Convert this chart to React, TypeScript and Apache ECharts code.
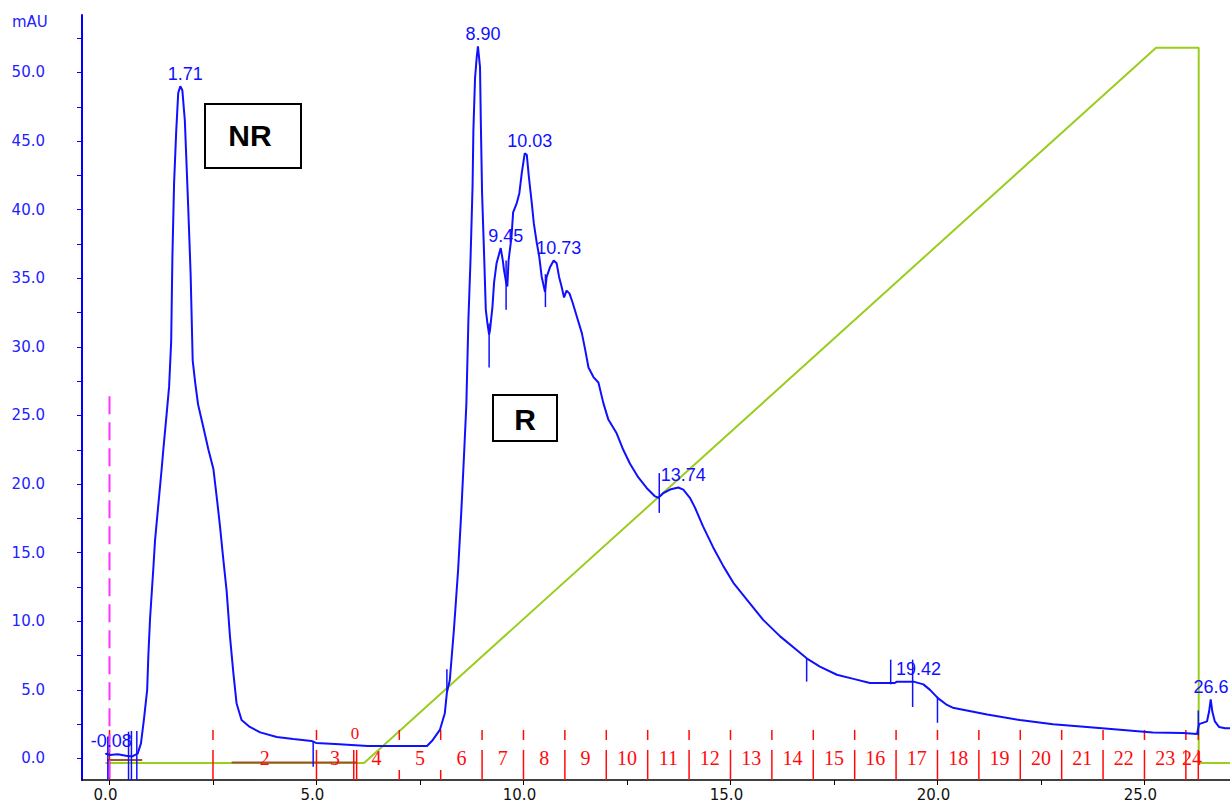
import React, { useEffect, useRef } from "react";
import * as echarts from "echarts";

// UV trace, minutes vs mAU
const trace: [number, number][] = [
  [-0.1, 0.3], [-0.08, 0.35], [0.0, 0.25], [0.2, 0.3], [0.4, 0.2], [0.55, 0.15], [0.68, 0.35],
  [0.76, 1.1], [0.83, 2.8], [0.91, 5.0], [0.94, 7.6], [0.98, 10.2],
  [1.06, 13.9], [1.1, 15.9], [1.18, 18.5], [1.26, 21.1], [1.3, 22.5], [1.38, 25.1], [1.44, 27.1],
  [1.49, 30.4], [1.52, 36.6], [1.56, 41.9], [1.61, 45.6], [1.66, 48.5], [1.71, 49.0], [1.76, 48.7],
  [1.82, 46.5], [1.9, 40.3], [1.96, 35.3], [2.01, 29.0], [2.07, 27.4], [2.14, 25.8], [2.27, 24.1],
  [2.39, 22.5], [2.51, 21.1], [2.6, 18.8], [2.67, 16.9], [2.75, 14.5], [2.83, 12.2], [2.91, 8.9],
  [2.99, 6.3], [3.07, 4.0], [3.19, 2.8], [3.39, 2.3], [3.64, 1.9], [4.04, 1.57], [4.44, 1.42],
  [4.88, 1.28], [4.99, 1.13], [5.45, 1.06], [6.24, 0.91], [7.02, 0.9], [7.67, 0.91], [7.81, 1.35],
  [7.98, 2.08], [8.1, 3.3], [8.15, 4.8], [8.22, 5.7], [8.32, 9.4], [8.42, 13.7], [8.5, 18.1],
  [8.57, 22.5], [8.62, 25.8], [8.67, 32.0], [8.72, 36.3], [8.77, 41.7], [8.79, 45.8], [8.83, 49.6],
  [8.87, 51.1], [8.9, 51.9], [8.95, 50.4], [8.97, 46.3], [9.0, 41.2], [9.05, 36.6], [9.09, 32.7],
  [9.13, 31.7], [9.17, 30.9], [9.19, 31.2], [9.25, 32.9], [9.29, 34.7], [9.35, 36.1], [9.45, 37.2],
  [9.5, 36.3], [9.53, 35.6], [9.58, 34.7], [9.61, 34.4], [9.64, 36.3], [9.71, 38.0], [9.75, 39.8],
  [9.84, 40.5], [9.9, 41.2], [9.96, 42.7], [10.03, 44.1], [10.08, 44.0], [10.13, 42.4], [10.2, 40.5],
  [10.25, 39.0], [10.32, 37.6], [10.38, 36.6], [10.44, 35.1], [10.52, 34.0], [10.56, 35.1],
  [10.64, 35.8], [10.73, 36.3], [10.8, 36.1], [10.86, 35.1], [10.92, 34.4], [10.98, 33.6],
  [11.04, 34.1], [11.11, 33.9], [11.19, 33.2], [11.29, 32.2], [11.41, 31.0], [11.49, 29.8],
  [11.57, 28.5], [11.69, 27.8], [11.81, 27.4], [11.93, 25.9], [12.05, 24.7], [12.25, 23.7],
  [12.41, 22.5], [12.57, 21.5], [12.77, 20.5], [12.98, 19.7], [13.18, 19.1], [13.26, 19.0],
  [13.38, 19.35], [13.54, 19.6], [13.74, 19.75], [13.86, 19.6], [14.02, 19.0], [14.14, 18.3],
  [14.34, 16.9], [14.58, 15.4], [14.83, 14.0], [15.07, 12.8], [15.39, 11.6], [15.79, 10.1],
  [16.2, 8.9], [16.6, 7.9], [16.84, 7.3], [17.16, 6.7], [17.57, 6.1], [17.97, 5.8], [18.37, 5.5],
  [18.97, 5.5], [19.02, 5.6], [19.42, 5.6], [19.66, 5.4], [19.82, 5.0], [20.01, 4.4], [20.23, 3.9],
  [20.37, 3.7], [20.71, 3.5], [21.2, 3.2], [21.99, 2.8], [22.79, 2.5], [23.61, 2.3], [24.41, 2.1],
  [25.2, 1.9], [25.93, 1.86], [26.27, 1.79], [26.32, 2.5], [26.51, 2.7], [26.56, 3.4], [26.6, 4.3],
  [26.64, 3.4], [26.7, 2.7], [26.8, 2.3], [26.95, 2.2], [27.07, 2.2],
];

// Gradient program, minutes vs %B
const gradientMinutes = [-0.1, 6.15, 25.28, 26.31, 26.31, 27.07];
const gradientPercentB = [0, 0, 100, 100, 0, 0];

// Integration baselines: [from, to, level mAU]
const baselines: [number, number, number][] = [
  [-0.06, 0.79, -0.11],
  [2.95, 5.97, -0.3],
];

// Peak retention times and their printed labels
const peakMinutes = [-0.08, 1.71, 8.9, 9.45, 10.03, 10.73, 13.74, 19.42, 26.6];
const peakLabels = ["-0.08", "1.71", "8.90", "9.45", "10.03", "10.73", "13.74", "19.42", "26.6"];

// Peak start / end markers: [minute, top mAU, bottom mAU]
const integrationMarks: [number, number, number][] = [
  [-0.04, 1.6, -1.57], [0.46, 1.95, -1.57], [0.53, 2.0, -1.57], [0.66, 2.0, -1.57],
  [4.92, 1.2, -0.6], [8.15, 6.5, 4.8], [9.17, 31.7, 28.5], [9.58, 36.3, 32.7],
  [10.53, 35.3, 32.9], [13.28, 20.8, 17.9], [16.84, 7.3, 5.6], [18.87, 7.2, 5.4],
  [19.4, 7.2, 3.75], [20.0, 4.5, 2.6], [26.3, 3.5, 1.7],
];

// Fraction collector cuts (minutes) and fraction numbers
const fractionCuts = [0, 2.5, 5, 5.9, 7, 8, 9, 10, 11, 12, 13, 14, 15, 16, 17, 18, 19, 20, 21, 22, 23, 24, 25, 26, 26.3];
const extraCuts = [5.97];
const shortCuts = [7, 8];
const noTopCuts = [5.9, 5.97];
const fractionNames = ["2", "3", "4", "5", "6", "7", "8", "9", "10", "11", "12", "13", "14", "15", "16", "17", "18", "19", "20", "21", "22", "23", "24"];
const wasteMarkMinute = 5.93;

// Injection marker
const injectionMinute = 0;
const injectionTop = 26.4;

// Axis ticks and labels
const xLabelValues = [0, 5, 10, 15, 20, 25];
const xTickValues = [0, 2.5, 5, 7.5, 10, 12.5, 15, 17.5, 20, 22.5, 25];
const yLabelValues = [0, 5, 10, 15, 20, 25, 30, 35, 40, 45, 50];
const yTickValues = [0, 2.5, 5, 7.5, 10, 12.5, 15, 17.5, 20, 22.5, 25, 27.5, 30, 32.5, 35, 37.5, 40, 42.5, 45, 47.5, 50, 52.5];

const X_MIN = -0.664;
const X_MAX = 27.066;
const Y_MIN = -1.57;
const Y_MAX = 54.19;

const CHART_W = 1230;
const BLUE = "#1010ff";
const RED = "#ff0a0a";

export default function App() {
  const ref = useRef<HTMLDivElement>(null);

  useEffect(() => {
    if (!ref.current) return;
    const chart = echarts.init(ref.current, undefined, { renderer: "svg" });

    const apexValue = (t: number) => {
      const p = trace.find((d) => d[0] === t);
      return p ? p[1] : 0;
    };

    const cutRows = [...fractionCuts, ...extraCuts].map((t) => [t, 0]);
    const fractionLabelRows = fractionNames.map((name, i) => [
      (fractionCuts[i + 1] + fractionCuts[i + 2]) / 2,
      0,
      name,
    ]);
    const peakRows = peakMinutes.map((t, i) => [t, apexValue(t), peakLabels[i]]);

    const option: any = {
      animation: false,
      backgroundColor: "#ffffff",
      grid: { left: 82, top: 15, width: 1148, height: 765, containLabel: false },
      xAxis: {
        type: "value",
        min: X_MIN,
        max: X_MAX,
        axisLine: { show: true, onZero: false, lineStyle: { color: "#000000", width: 1.5 } },
        axisTick: { show: true, length: 5, customValues: xTickValues, lineStyle: { color: "#000000" } },
        axisLabel: {
          customValues: xLabelValues,
          formatter: (v: number) => v.toFixed(1),
          color: "#111111",
          fontFamily: "DejaVu Sans",
          fontSize: 15,
          margin: 7,
          padding: [0, 8, 0, 0],
        },
        splitLine: { show: false },
      },
      yAxis: [
        {
          type: "value",
          min: Y_MIN,
          max: Y_MAX,
          axisLine: { show: true, onZero: false, lineStyle: { color: "#0000ff", width: 2 } },
          axisTick: { show: true, length: 5, customValues: yTickValues, lineStyle: { color: "#0000ff" } },
          axisLabel: {
            customValues: yLabelValues,
            formatter: (v: number) => v.toFixed(1),
            color: "#2222ff",
            fontFamily: "DejaVu Sans",
            fontSize: 15,
            margin: 37,
          },
          splitLine: { show: false },
        },
        { type: "value", min: -2.377, max: 104.57, show: false },
      ],
      graphic: [
        {
          type: "text",
          left: 12,
          top: 14,
          style: { text: "mAU", fill: "#2222ff", font: '15px "DejaVu Sans"' },
        },
        {
          type: "rect",
          shape: { x: 205, y: 104, width: 96, height: 64 },
          style: { fill: "#ffffff", stroke: "#000000", lineWidth: 2 },
        },
        {
          type: "text",
          x: 250,
          y: 135,
          style: {
            text: "NR",
            fill: "#000000",
            font: 'bold 30px "Liberation Sans"',
            align: "center",
            verticalAlign: "middle",
            textAlign: "center",
            textVerticalAlign: "middle",
          },
        },
        {
          type: "rect",
          shape: { x: 493, y: 395, width: 64, height: 46 },
          style: { fill: "#ffffff", stroke: "#000000", lineWidth: 2 },
        },
        {
          type: "text",
          x: 525,
          y: 419,
          style: {
            text: "R",
            fill: "#000000",
            font: 'bold 30px "Liberation Sans"',
            align: "center",
            verticalAlign: "middle",
            textAlign: "center",
            textVerticalAlign: "middle",
          },
        },
      ],
      series: [
        {
          name: "%B",
          type: "line",
          yAxisIndex: 1,
          data: gradientMinutes.map((t, i) => [t, gradientPercentB[i]]),
          showSymbol: false,
          lineStyle: { color: "#9acd1e", width: 2 },
          z: 2,
        },
        {
          name: "baseline",
          type: "custom",
          data: baselines,
          encode: { x: [0, 1], y: 2 },
          renderItem: (_p: any, api: any) => {
            const a = api.coord([api.value(0), api.value(2)]);
            const b = api.coord([api.value(1), api.value(2)]);
            return {
              type: "line",
              shape: { x1: a[0], y1: a[1], x2: b[0], y2: b[1] },
              style: { stroke: "#a0522d", lineWidth: 2 },
            };
          },
          z: 3,
        },
        {
          name: "fraction cuts",
          type: "custom",
          data: cutRows,
          encode: { x: 0, y: 1 },
          renderItem: (_p: any, api: any) => {
            const t = api.value(0);
            const children: any[] = [];
            if (!noTopCuts.includes(t)) {
              const a = api.coord([t, 2.08]);
              const b = api.coord([t, 1.35]);
              children.push({
                type: "line",
                shape: { x1: a[0], y1: a[1], x2: b[0], y2: b[1] },
                style: { stroke: RED, lineWidth: 1.5 },
              });
            }
            const c = api.coord([t, shortCuts.includes(t) ? -0.84 : 0.62]);
            const d = api.coord([t, Y_MIN]);
            children.push({
              type: "line",
              shape: { x1: c[0], y1: c[1], x2: d[0], y2: d[1] },
              style: { stroke: RED, lineWidth: 1.5 },
            });
            return { type: "group", children };
          },
          z: 3,
        },
        {
          name: "fraction numbers",
          type: "custom",
          data: fractionLabelRows,
          encode: { x: 0, y: 1 },
          renderItem: (params: any, api: any) => {
            const p = api.coord([api.value(0), api.value(1)]);
            return {
              type: "text",
              x: p[0],
              y: p[1],
              style: {
                text: fractionLabelRows[params.dataIndex][2],
                fill: RED,
                font: '20px "Liberation Serif"',
                align: "center",
                verticalAlign: "middle",
              },
            };
          },
          z: 4,
        },
        {
          name: "waste",
          type: "custom",
          data: [[wasteMarkMinute, 1.85]],
          encode: { x: 0, y: 1 },
          renderItem: (_p: any, api: any) => {
            const p = api.coord([api.value(0), api.value(1)]);
            return {
              type: "text",
              x: p[0],
              y: p[1],
              style: {
                text: "0",
                fill: RED,
                font: '17px "Liberation Serif"',
                align: "center",
                verticalAlign: "middle",
              },
            };
          },
          z: 4,
        },
        {
          name: "injection",
          type: "line",
          data: [
            [injectionMinute, injectionTop],
            [injectionMinute, Y_MIN],
          ],
          showSymbol: false,
          lineStyle: { color: "#ff33ff", width: 2, type: [18, 8] },
          z: 4,
        },
        {
          name: "UV",
          type: "line",
          data: trace,
          showSymbol: false,
          lineStyle: { color: BLUE, width: 2 },
          z: 6,
        },
        {
          name: "marks",
          type: "custom",
          data: integrationMarks,
          encode: { x: 0, y: [1, 2] },
          renderItem: (_p: any, api: any) => {
            const a = api.coord([api.value(0), api.value(1)]);
            const b = api.coord([api.value(0), api.value(2)]);
            return {
              type: "line",
              shape: { x1: a[0], y1: a[1], x2: b[0], y2: b[1] },
              style: { stroke: BLUE, lineWidth: 1.5 },
            };
          },
          z: 7,
        },
        {
          name: "peak labels",
          type: "custom",
          data: peakRows,
          encode: { x: 0, y: 1 },
          renderItem: (params: any, api: any) => {
            const p = api.coord([api.value(0), api.value(1)]);
            // keep the last label inside the plotting area
            const x = Math.min(p[0] + 5, CHART_W - 19);
            return {
              type: "text",
              x,
              y: p[1] - 12.5,
              style: {
                text: peakRows[params.dataIndex][2],
                fill: BLUE,
                font: '18px "Liberation Sans"',
                align: "center",
                verticalAlign: "middle",
              },
            };
          },
          z: 8,
        },
      ],
    };

    chart.setOption(option);
    return () => chart.dispose();
  }, []);

  return (
    <div
      ref={ref}
      style={{ position: "absolute", left: 0, top: 0, width: CHART_W, height: 802, background: "#ffffff" }}
    />
  );
}
